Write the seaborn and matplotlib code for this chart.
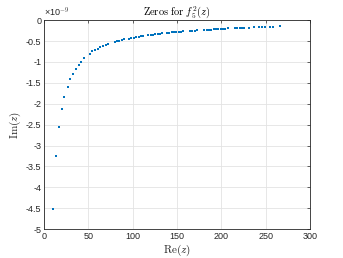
import matplotlib
matplotlib.use("Agg")
import matplotlib.pyplot as plt
import seaborn as sns
import pandas as pd
from matplotlib.ticker import FuncFormatter

# Real parts of the zeros
re_z = [9.8, 13.5, 16.9, 20.0, 22.9, 26.7, 29.7, 32.7, 36.1, 39.1, 42.1, 45.4,
        51.9, 54.7, 57.5, 60.5, 63.5, 66.5, 69.6, 72.5,
        79.7, 82.3, 84.9, 88.0, 90.6,
        95.9, 98.5, 101.2, 104.1, 106.8, 109.4, 112.0,
        117.6, 120.3, 122.9, 125.5, 128.2, 130.8, 133.4,
        138.7, 141.3, 144.0, 146.6, 149.2, 151.9, 154.5, 157.1,
        164.7, 167.2, 169.9, 172.5,
        180.8, 183.5, 186.1, 188.7, 191.4, 194.0, 196.6, 199.3, 201.9, 204.5, 207.5,
        215.4, 218.0, 220.7, 223.3, 225.9,
        231.2, 236.8, 242.8, 245.9, 248.9, 255.2, 258.3, 265.8]
# Imaginary parts (units of 1e-9)
im_z = [-4.51, -3.24, -2.56, -2.13, -1.83, -1.60, -1.42, -1.28, -1.17, -1.07, -0.99, -0.91,
        -0.80, -0.75, -0.71, -0.68, -0.65, -0.61, -0.59, -0.56,
        -0.53, -0.51, -0.50, -0.48, -0.46,
        -0.44, -0.43, -0.42, -0.41, -0.40, -0.39, -0.38,
        -0.36, -0.35, -0.345, -0.34, -0.33, -0.325, -0.32,
        -0.31, -0.30, -0.295, -0.29, -0.285, -0.28, -0.275, -0.27,
        -0.26, -0.255, -0.25, -0.245,
        -0.235, -0.23, -0.228, -0.225, -0.22, -0.218, -0.215, -0.21, -0.208, -0.205, -0.20,
        -0.195, -0.193, -0.19, -0.188, -0.185,
        -0.18, -0.175, -0.17, -0.167, -0.164, -0.16, -0.157, -0.152]

x_ticks = [0, 50, 100, 150, 200, 250, 300]
y_ticks = [-5, -4.5, -4, -3.5, -3, -2.5, -2, -1.5, -1, -0.5, 0]

sns.set_style("white")
plt.rcParams["font.family"] = ["Liberation Sans", "DejaVu Sans"]
plt.rcParams["mathtext.fontset"] = "cm"
plt.rcParams["axes.unicode_minus"] = False

df = pd.DataFrame({"re": re_z, "im": im_z})

fig = plt.figure(figsize=(3.43, 2.58), dpi=100)
ax = fig.add_axes([0.128, 0.112, 0.776, 0.810])

sns.scatterplot(data=df, x="re", y="im", ax=ax, color="#0072BD", s=3.2,
                marker="s", linewidth=0, zorder=3)

ax.set_xlim(0, 300)
ax.set_ylim(-5, 0)
ax.set_xticks(x_ticks)
ax.set_yticks(y_ticks)
ax.yaxis.set_major_formatter(FuncFormatter(lambda v, p: "%g" % v))
ax.xaxis.set_major_formatter(FuncFormatter(lambda v, p: "%g" % v))

ax.grid(True, color="#e3e3e3", linewidth=0.6, zorder=0)
ax.set_axisbelow(True)
for s in ax.spines.values():
    s.set_color("#262626")
    s.set_linewidth(0.6)
ax.tick_params(direction="in", length=2.5, width=0.5, labelsize=6.5,
               colors="#262626", top=True, right=True, pad=2)

ax.set_xlabel(r"$\mathrm{Re}(z)$", fontsize=8, labelpad=1, color="#262626")
ax.set_ylabel(r"$\mathrm{Im}(z)$", fontsize=8, labelpad=2, color="#262626")
ax.set_title(r"$\mathrm{Zeros\ for}\ f_5^2(z)$", fontsize=7.5, pad=3, color="black")
ax.text(0.0, 1.005, "×10$^{\\mathsf{-9}}$", transform=ax.transAxes, fontsize=6.5,
        ha="left", va="bottom", color="#262626")

fig.savefig("out.png", dpi=100, facecolor="white")
